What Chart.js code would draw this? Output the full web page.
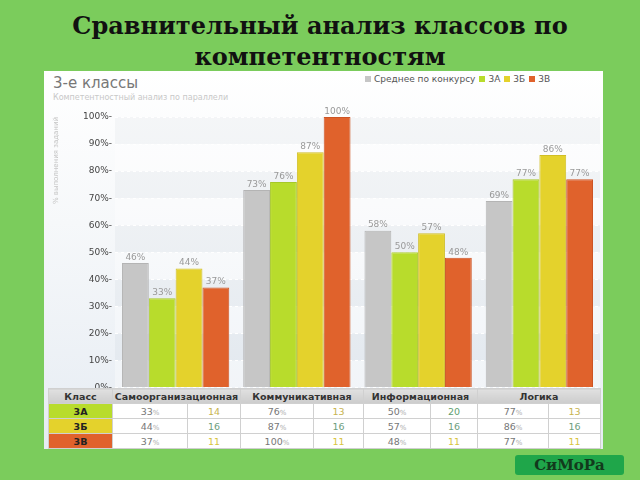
<!DOCTYPE html>
<html lang="ru">
<head>
<meta charset="utf-8">
<script src="https://cdn.jsdelivr.net/npm/chart.js@4"></script>
<style>
  html, body { margin: 0; padding: 0; }
  body { width: 640px; height: 480px; background: #7bcc5c; position: relative; overflow: hidden; font-family: 'DejaVu Sans', sans-serif; }
  #title { position: absolute; left: 0; top: 10px; width: 640px; text-align: center; font-family: 'DejaVu Serif', serif; font-weight: bold; font-size: 24px; line-height: 31px; color: #111; }
  #panel { position: absolute; left: 44px; top: 71px; width: 559px; height: 378px; background: linear-gradient(#ffffff 0%, #f6f8fa 40%, #e6ecf3 100%); }
  #head { position: absolute; left: 53px; top: 74px; font-size: 15px; color: #777; }
  #sub { position: absolute; left: 53px; top: 93px; font-size: 8px; color: #c8c8c8; }
  #legend { position: absolute; left: 361px; top: 74px; font-size: 9px; color: #555; white-space: nowrap; }
  #legend span.sw { display: inline-block; width: 6px; height: 6px; margin: 0 3px 0 4px; }
  #chart { position: absolute; left: 44px; top: 100px; }
  table { position: absolute; left: 48px; top: 388px; border-collapse: collapse; table-layout: fixed; font-size: 9.5px; background: #fff; }
  td, th { border: 1px solid #d0d0d0; height: 14px; padding: 0; text-align: center; }
  th { background: linear-gradient(#e0e0e0, #cccccc); color: #333; font-weight: bold; }
  td.cls { font-weight: bold; color: #222; }
  td.pct { color: #777; }
  td.pct small { font-size: 7px; color: #aaa; }
  #btn { position: absolute; left: 515px; top: 455px; width: 109px; height: 20px; background: #1fa64a; border-radius: 3px; text-align: center; font-family: 'DejaVu Serif', serif; font-weight: bold; font-size: 15px; line-height: 20px; color: #123a1c; }
</style>
</head>
<body>
<div id="title">Сравнительный анализ классов по<br>компетентностям</div>
<div id="panel"></div>
<div id="head">3-е классы</div>
<div id="sub">Компетентностный анализ по параллели</div>
<div id="legend"></div>
<canvas id="chart" width="559" height="296"></canvas>
<table id="tbl">
  <colgroup>
    <col style="width:64px"><col style="width:75px"><col style="width:53px"><col style="width:73px"><col style="width:50px"><col style="width:67px"><col style="width:47px"><col style="width:71px"><col style="width:52px">
  </colgroup>
  <thead></thead>
  <tbody></tbody>
</table>
<div id="btn">СиМоРа</div>
<script>
// данные
const categories = ['Самоорганизационная', 'Коммуникативная', 'Информационная', 'Логика'];
const seriesNames = ['Среднее по конкурсу', '3А', '3Б', '3В'];
const avgValues = [46, 73, 58, 69];
const values3A = [33, 76, 50, 77];
const values3B = [44, 87, 57, 86];
const values3V = [37, 100, 48, 77];
const counts3A = [14, 13, 20, 13];
const counts3B = [16, 16, 16, 16];
const counts3V = [11, 11, 11, 11];
const yTicks = [0, 10, 20, 30, 40, 50, 60, 70, 80, 90, 100];

const fillColors = ['#c6c6c6', '#b8dc2c', '#e4d22c', '#e0622c'];
const edgeColors = ['#b4b4b4', '#a6c828', '#d0be26', '#cc5424'];
const countColors = { 11: '#d8c440', 13: '#c8b450', 14: '#c8b450', 16: '#6e9e7e', 20: '#5fa070' };

// легенда
const legend = document.getElementById('legend');
seriesNames.forEach(function(name, i) {
    legend.innerHTML += '<span class="sw" style="background:' + fillColors[i] + '"></span>' + name;
});

// таблица
const thead = document.querySelector('#tbl thead');
let hrow = '<tr><th>Класс</th>';
categories.forEach(function(c) { hrow += '<th colspan="2">' + c + '</th>'; });
thead.innerHTML = hrow + '</tr>';

const tbody = document.querySelector('#tbl tbody');
const rows = [
    { name: '3А', vals: values3A, counts: counts3A, color: fillColors[1] },
    { name: '3Б', vals: values3B, counts: counts3B, color: fillColors[2] },
    { name: '3В', vals: values3V, counts: counts3V, color: fillColors[3] }
];
rows.forEach(function(r) {
    let html = '<tr><td class="cls" style="background:' + r.color + '">' + r.name + '</td>';
    r.vals.forEach(function(v, j) {
        html += '<td class="pct">' + v + '<small>%</small></td>';
        html += '<td style="color:' + (countColors[r.counts[j]] || '#999') + '">' + r.counts[j] + '</td>';
    });
    tbody.innerHTML += html + '</tr>';
});

// полосы фона и подписи над столбцами
const bandsPlugin = {
    id: 'bands',
    beforeDraw(chart) {
        const c = chart.ctx, a = chart.chartArea, y = chart.scales.y;
        c.save();
        for (let i = 0; i < yTicks.length - 1; i++) {
            const top = y.getPixelForValue(yTicks[i + 1]);
            const bot = y.getPixelForValue(yTicks[i]);
            c.fillStyle = i % 2 === 1 ? 'rgba(40,60,90,0.035)' : 'rgba(255,255,255,0.35)';
            c.fillRect(a.left, top, a.right - a.left, bot - top);
        }
        c.restore();
    }
};
const labelPlugin = {
    id: 'valueLabels',
    afterDatasetsDraw(chart) {
        const c = chart.ctx;
        c.save();
        c.font = "9px 'DejaVu Sans', sans-serif";
        c.fillStyle = '#999';
        c.textAlign = 'center';
        c.textBaseline = 'bottom';
        chart.data.datasets.forEach(function(ds, i) {
            chart.getDatasetMeta(i).data.forEach(function(bar, j) {
                c.fillText(ds.data[j] + '%', bar.x, bar.y - 1);
            });
        });
        c.restore();
    }
};

const allValues = [avgValues, values3A, values3B, values3V];
new Chart(document.getElementById('chart'), {
    type: 'bar',
    data: {
        labels: categories,
        datasets: allValues.map(function(vals, i) {
            return {
                label: seriesNames[i],
                data: vals,
                backgroundColor: fillColors[i],
                borderColor: edgeColors[i],
                borderWidth: 1,
                categoryPercentage: 0.885,
                barPercentage: 1
            };
        })
    },
    options: {
        responsive: false,
        animation: false,
        layout: { padding: { top: 17, right: 3, bottom: 4, left: 0 } },
        plugins: { legend: { display: false }, tooltip: { enabled: false } },
        scales: {
            x: { display: false },
            y: {
                min: 0,
                max: 100,
                afterFit: function(scale) { scale.width = 71; },
                afterBuildTicks: function(scale) { scale.ticks = yTicks.map(function(v) { return { value: v }; }); },
                ticks: {
                    color: '#444',
                    font: { family: "'DejaVu Sans', sans-serif", size: 9 },
                    padding: 3,
                    callback: function(v) { return v + '%-'; }
                },
                grid: { color: 'rgba(255,255,255,0.95)', drawTicks: false, lineWidth: 1 },
                border: { display: false, dash: [3, 3] },
                title: {
                    display: true,
                    text: '% выполнения заданий',
                    align: 'end',
                    color: '#c4c4c4',
                    font: { family: "'DejaVu Sans', sans-serif", size: 7 },
                    padding: { top: 8, bottom: 0 }
                }
            }
        }
    },
    plugins: [bandsPlugin, labelPlugin]
});
</script>
</body>
</html>
